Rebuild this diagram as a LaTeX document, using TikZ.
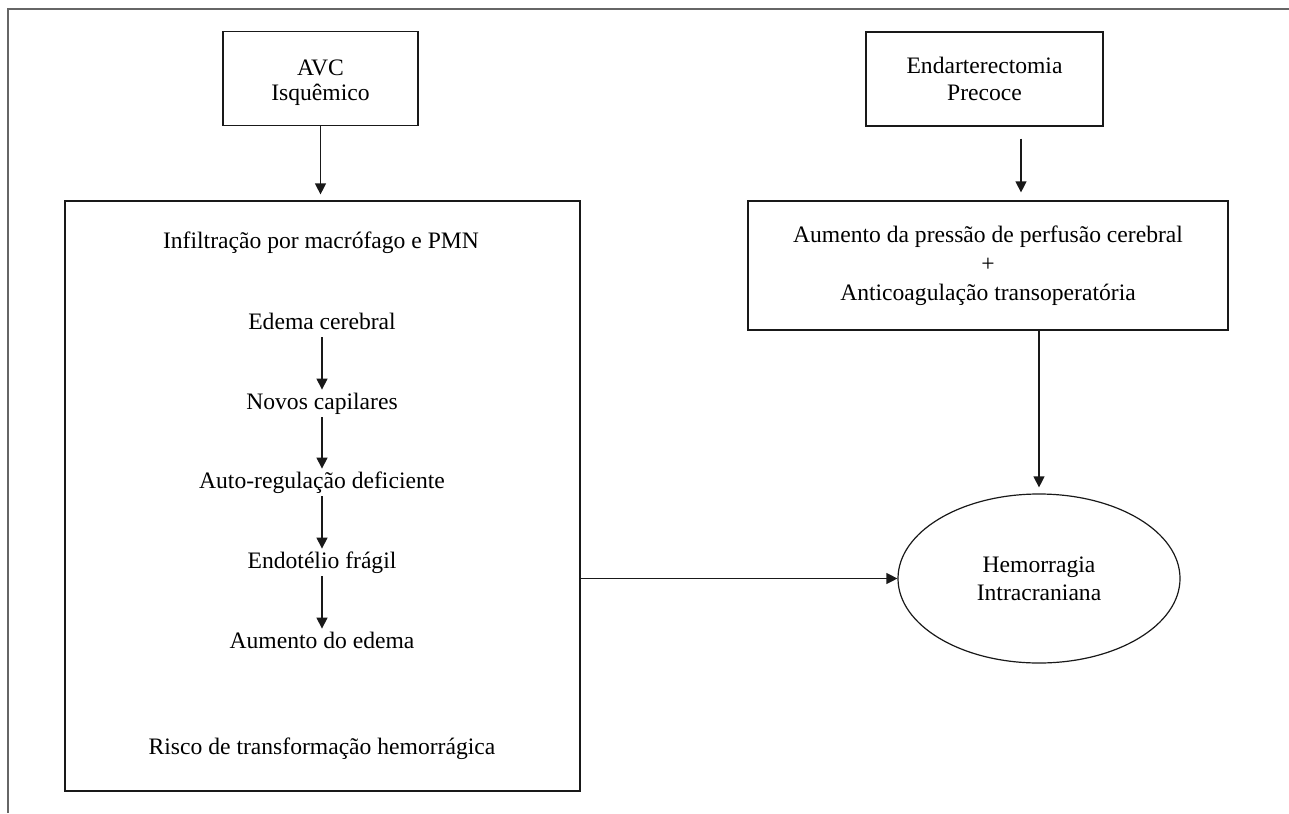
\documentclass[tikz,border=0pt]{standalone}
\usepackage{fontspec}
\setmainfont{Liberation Serif}
\usetikzlibrary{arrows.meta,shapes.geometric}
\begin{document}
\begin{tikzpicture}[x=0.5pt,y=-0.5pt,
  every node/.style={font=\fontsize{11.8}{13}\selectfont, inner sep=0pt},
  box/.style={draw=black!90, line width=0.6pt, align=center},
  arr/.style={-{Triangle[width=5.5pt,length=5.5pt]}, line width=0.6pt, draw=black!90},
  lbl/.style={anchor=base, text height=8pt, text depth=2.5pt, inner ysep=1.5pt},
  frame/.style={draw=black!60, line width=0.7pt}]
\useasboundingbox (0,0) rectangle (1289,813);
\fill[white] (0,0) rectangle (1289,813);
\draw[frame] (8,813) -- (8,9) -- (1289,9);

% boxes
\node[box, minimum width=97.5pt, minimum height=47pt,
      font=\fontsize{11.8}{12.5}\selectfont] (avc) at (320.5,78.5) {\rule{0pt}{11.8pt}AVC\\Isquêmico};
\node[box, minimum width=118.5pt, minimum height=47pt,
      font=\fontsize{11.8}{13.5}\selectfont] (endo) at (984.5,79) {Endarterectomia\\Precoce};
\node[box, minimum width=257.5pt, minimum height=295pt] (big) at (322.5,496) {};
\node[box, minimum width=240pt, minimum height=64.5pt,
      font=\fontsize{11.8}{14.5}\selectfont] (rbox) at (988,265.5)
      {Aumento da pressão de perfusão cerebral\\+\\Anticoagulação transoperatória};
\node[box, ellipse, minimum width=141pt, minimum height=84.5pt,
      font=\fontsize{11.8}{14}\selectfont] (ell) at (1039,578.5) {Hemorragia\\Intracraniana};

% inner texts
\node[lbl] (t1) at (321,248) {Infiltração por macrófago e PMN};
\node[lbl] (t2) at (322,329) {Edema cerebral};
\node[lbl] (t3) at (322,409) {Novos capilares};
\node[lbl] (t4) at (322,488) {Auto-regulação deficiente};
\node[lbl] (t5) at (322,568) {Endotélio frágil};
\node[lbl] (t6) at (322,648) {Aumento do edema};
\node[lbl] (t7) at (322,754) {Risco de transformação hemorrágica};

% connectors
\coordinate (ex) at (1021,0);
\draw[arr, shorten >=3pt] (avc.south) -- (avc.south |- big.north);
\draw[arr, shorten <=6pt, shorten >=4pt] (endo.south -| ex) -- (rbox.north -| ex);
\draw[arr, shorten >=3pt] (rbox.south -| ell.north) -- (ell.north);
\draw[arr] (big.east |- ell.west) -- (ell.west);
\draw[arr] (t2.south) -- (t2.south |- t3.north);
\draw[arr] (t3.south) -- (t3.south |- t4.north);
\draw[arr] (t4.south) -- (t4.south |- t5.north);
\draw[arr] (t5.south) -- (t5.south |- t6.north);
\end{tikzpicture}
\end{document}
